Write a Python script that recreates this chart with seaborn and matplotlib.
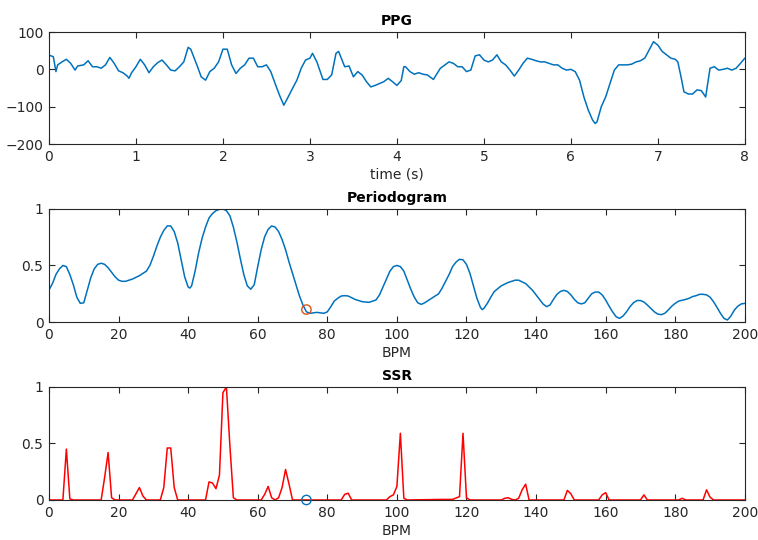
import matplotlib
matplotlib.use("Agg")
import matplotlib.pyplot as plt
import seaborn as sns

# ---------------- data ----------------
ppg_t = [0.0, 0.05, 0.08, 0.1, 0.15, 0.2, 0.25, 0.3, 0.33, 0.4, 0.45, 0.5, 0.55, 0.6, 0.65, 0.7, 0.75,
         0.8, 0.85, 0.9, 0.92, 0.95, 1.0, 1.05, 1.1, 1.15, 1.2, 1.25, 1.3, 1.35, 1.4, 1.45, 1.5, 1.55,
         1.6, 1.63, 1.7, 1.75, 1.8, 1.85, 1.9, 1.95, 2.0, 2.05, 2.1, 2.15, 2.2, 2.25, 2.3, 2.35, 2.4,
         2.45, 2.5, 2.55, 2.6, 2.65, 2.7, 2.75, 2.8, 2.85, 2.9, 2.95, 3.0, 3.03, 3.08, 3.15, 3.2, 3.25,
         3.3, 3.33, 3.4, 3.45, 3.5, 3.55, 3.6, 3.65, 3.7, 3.75, 3.8, 3.85, 3.9, 3.95, 4.0, 4.05, 4.08,
         4.1, 4.15, 4.2, 4.25, 4.3, 4.35, 4.42, 4.5, 4.6, 4.65, 4.7, 4.75, 4.8, 4.85, 4.9, 4.95, 5.0,
         5.05, 5.1, 5.15, 5.2, 5.25, 5.3, 5.35, 5.4, 5.45, 5.5, 5.55, 5.6, 5.65, 5.7, 5.75, 5.8, 5.85,
         5.9, 5.95, 6.0, 6.05, 6.1, 6.15, 6.2, 6.25, 6.28, 6.3, 6.35, 6.4, 6.45, 6.5, 6.55, 6.6, 6.65,
         6.7, 6.75, 6.8, 6.85, 6.9, 6.95, 7.0, 7.05, 7.1, 7.15, 7.2, 7.23, 7.27, 7.3, 7.35, 7.4, 7.45,
         7.5, 7.55, 7.6, 7.65, 7.7, 7.75, 7.8, 7.85, 7.9, 7.95, 8.0]
ppg_v = [38, 34, -6, 12, 20, 27, 16, -2, 9, 12, 23, 7, 7, 3, 12, 32, 16,
         -4, -9, -18, -24, -9, 7, 27, 12, -9, 7, 18, 25, 12, -2, -4, 7, 20,
         59, 54, 12, -20, -29, -6, 3, 20, 54, 54, 12, -11, 3, 12, 30, 30, 7,
         7, 12, -6, -38, -69, -96, -74, -51, -29, 3, 25, 30, 43, 20, -27, -27, -15,
         43, 48, 7, 9, -20, -6, -15, -33, -47, -43, -38, -33, -24, -33, -43, -30, 7,
         7, -6, -13, -9, -13, -15, -27, 3, 20, 16, 7, 7, -6, -2, 36, 39, 25,
         20, 25, 39, 20, 12, -2, -18, -2, 16, 30, 27, 23, 20, 20, 16, 12, 12,
         3, -2, 0, -6, -29, -74, -109, -136, -145, -141, -100, -74, -38, -2, 12, 12, 12,
         14, 20, 23, 30, 52, 74, 65, 48, 39, 30, 27, 20, -24, -60, -66, -66, -55,
         -57, -74, 3, 7, -2, 0, 3, -2, 3, 16, 30]

per_bpm = [0, 1, 2, 3, 4, 5, 6, 7, 8, 9, 10, 11, 12, 13, 14, 15, 16, 17, 18, 19, 20, 21, 22, 24,
           26, 28, 29, 30, 31, 32, 33, 34, 35, 36, 37, 38, 39, 40, 40.5, 41, 42, 43, 44, 45, 46,
           47, 48, 49, 50, 51, 52, 53, 54, 55, 56, 57, 58, 59, 60, 61, 62, 63, 64, 65, 66, 67,
           68, 69, 70, 71, 72, 73, 74, 75, 77, 79, 80, 81, 82, 83, 84, 85, 86, 88, 90, 92, 94,
           95, 96, 97, 98, 99, 100, 101, 102, 103, 104, 105, 106, 107, 108, 110, 112, 113, 114,
           115, 116, 117, 118, 119, 120, 121, 122, 123, 124, 124.5, 125, 126, 127, 128, 130,
           132, 134, 135, 137, 139, 141, 142, 143, 144, 145, 146, 147, 148, 149, 150, 151, 152,
           153, 154, 155, 156, 157, 158, 159, 160, 161, 162, 163, 164, 165, 166, 167, 168, 169,
           170, 171, 172, 173, 174, 175, 176, 177, 178, 179, 180, 181, 183, 184, 185, 186, 187,
           188, 189, 190, 191, 192, 193, 194, 195, 196, 197, 198, 199, 200]
per_val = [0.283, 0.34, 0.42, 0.47, 0.50, 0.49, 0.42, 0.33, 0.22, 0.165, 0.17, 0.28, 0.39,
           0.47, 0.51, 0.52, 0.51, 0.48, 0.44, 0.40, 0.37, 0.36, 0.36, 0.38, 0.41, 0.45, 0.50,
           0.58, 0.67, 0.75, 0.81, 0.85, 0.85, 0.80, 0.70, 0.55, 0.40, 0.31, 0.30, 0.32, 0.45,
           0.61, 0.74, 0.84, 0.92, 0.96, 0.985, 0.997, 1.0, 0.985, 0.94, 0.84, 0.71, 0.56, 0.42,
           0.32, 0.29, 0.33, 0.49, 0.64, 0.755, 0.82, 0.85, 0.84, 0.80, 0.73, 0.64, 0.53, 0.43,
           0.33, 0.23, 0.15, 0.09, 0.077, 0.085, 0.077, 0.09, 0.135, 0.185, 0.21, 0.23, 0.233,
           0.23, 0.20, 0.18, 0.174, 0.195, 0.24, 0.31, 0.38, 0.45, 0.49, 0.50, 0.49, 0.45, 0.37,
           0.29, 0.22, 0.17, 0.156, 0.17, 0.21, 0.25, 0.30, 0.36, 0.42, 0.49, 0.53, 0.555, 0.55,
           0.51, 0.43, 0.32, 0.21, 0.13, 0.11, 0.12, 0.165, 0.22, 0.27, 0.32, 0.35, 0.37, 0.37,
           0.34, 0.28, 0.20, 0.16, 0.136, 0.15, 0.20, 0.245, 0.27, 0.28, 0.27, 0.24, 0.20, 0.17,
           0.16, 0.17, 0.21, 0.25, 0.265, 0.265, 0.24, 0.195, 0.14, 0.09, 0.047, 0.032, 0.053,
           0.09, 0.136, 0.17, 0.19, 0.19, 0.177, 0.15, 0.12, 0.09, 0.07, 0.065, 0.077, 0.106,
           0.14, 0.165, 0.185, 0.20, 0.21, 0.225, 0.233, 0.245, 0.245, 0.24, 0.22, 0.18, 0.13,
           0.077, 0.032, 0.018, 0.053, 0.106, 0.14, 0.16, 0.165]

ssr_bpm = [0, 4, 5, 6, 7, 15, 16, 17, 18, 19, 24, 26, 27, 28, 32, 33, 34, 35, 36, 37, 45, 46,
           47, 48, 49, 50, 51, 52, 53, 54, 61, 62, 63, 64, 65, 66, 67, 68, 69, 70, 84, 85, 86,
           87, 97, 98, 99, 100, 101, 102, 103, 113, 116, 118, 119, 120, 121, 130, 131, 132, 133,
           134, 135, 136, 137, 138, 148, 149, 150, 151, 158, 159, 160, 161, 170, 171, 172, 181,
           182, 183, 188, 189, 190, 191, 200]
ssr_val = [0, 0, 0.45, 0.01, 0, 0, 0.2, 0.42, 0.02, 0, 0, 0.11, 0.035, 0, 0, 0.11, 0.46, 0.46,
           0.11, 0, 0, 0.16, 0.15, 0.10, 0.22, 0.95, 1.0, 0.48, 0.02, 0, 0, 0.05, 0.12, 0.02, 0,
           0.02, 0.11, 0.27, 0.14, 0, 0, 0.05, 0.06, 0, 0, 0.03, 0.045, 0.12, 0.59, 0.015, 0,
           0.005, 0.005, 0.03, 0.59, 0.02, 0, 0, 0.015, 0.02, 0.005, 0, 0.015, 0.09, 0.14, 0, 0,
           0.085, 0.055, 0, 0, 0.045, 0.065, 0, 0, 0.045, 0, 0, 0.015, 0, 0, 0.09, 0.025, 0, 0]

est_bpm = [74]
est_per = [0.11]
est_ssr = [0]

# ---------------- style ----------------
sns.set_theme(style="white")
plt.rcParams['font.family'] = ['DejaVu Sans']
plt.rcParams['font.size'] = 10
plt.rcParams['axes.edgecolor'] = '#262626'
plt.rcParams['xtick.color'] = '#262626'
plt.rcParams['ytick.color'] = '#262626'

fig = plt.figure(figsize=(7.58, 5.40), dpi=100)
ax1 = fig.add_axes([0.0646, 0.7333, 0.918, 0.2074])
ax2 = fig.add_axes([0.0646, 0.4037, 0.918, 0.2093])
ax3 = fig.add_axes([0.0646, 0.0741, 0.918, 0.2093])

blue = '#0072BD'
orange = '#D95319'
txt = '#262626'

sns.lineplot(x=ppg_t, y=ppg_v, ax=ax1, color=blue, linewidth=1.1, sort=False, estimator=None)
ax1.set_xlim(0, 8)
ax1.set_ylim(-200, 100)
ax1.set_yticks([-200, -100, 0, 100])
ax1.set_xticks(range(0, 9))
ax1.set_xlabel('time (s)', fontsize=10, labelpad=3, color=txt)
ax1.set_title('PPG', fontsize=10, fontweight='bold', pad=5, color='black')

sns.lineplot(x=per_bpm, y=per_val, ax=ax2, color=blue, linewidth=1.1, sort=False, estimator=None)
sns.scatterplot(x=est_bpm, y=est_per, ax=ax2, marker='o', s=45, facecolor='none',
                edgecolor=orange, linewidth=1.0, zorder=5)
ax2.set_xlim(0, 200)
ax2.set_ylim(0, 1)
ax2.set_yticks([0, 0.5, 1])
ax2.set_yticklabels(['0', '0.5', '1'])
ax2.set_xticks(range(0, 201, 20))
ax2.set_xlabel('BPM', fontsize=10, labelpad=3, color=txt)
ax2.set_title('Periodogram', fontsize=10, fontweight='bold', pad=5, color='black')

sns.lineplot(x=ssr_bpm, y=ssr_val, ax=ax3, color='red', linewidth=1.1, sort=False, estimator=None)
sns.scatterplot(x=est_bpm, y=est_ssr, ax=ax3, marker='o', s=45, facecolor='none',
                edgecolor=blue, linewidth=1.0, zorder=5, clip_on=False)
ax3.set_xlim(0, 200)
ax3.set_ylim(0, 1)
ax3.set_yticks([0, 0.5, 1])
ax3.set_yticklabels(['0', '0.5', '1'])
ax3.set_xticks(range(0, 201, 20))
ax3.set_xlabel('BPM', fontsize=10, labelpad=3, color=txt)
ax3.set_title('SSR', fontsize=10, fontweight='bold', pad=5, color='black')

for ax in (ax1, ax2, ax3):
    for s in ax.spines.values():
        s.set_visible(True)
        s.set_linewidth(0.8)
        s.set_color('#262626')
    ax.tick_params(direction='in', length=4, width=0.8, top=True, right=True,
                   bottom=True, left=True, labelsize=10, pad=4, labelcolor=txt)
    ax.set_ylabel('')
    ax.grid(False)

fig.savefig('out.png', dpi=100)
